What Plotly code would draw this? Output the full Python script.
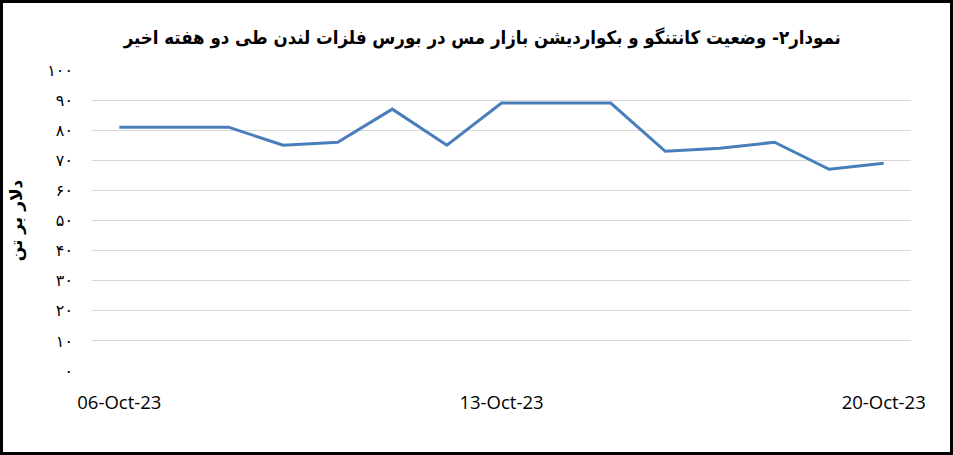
import pandas as pd
import plotly.graph_objects as go

# Daily copper spread readings, London Metal Exchange (two weeks)
dates = pd.date_range("2023-10-06", "2023-10-20", freq="D")
spread = [81, 81, 81, 75, 76, 87, 75, 89, 89, 89, 73, 74, 76, 67, 69]

y_ticks = [0, 10, 20, 30, 40, 50, 60, 70, 80, 90, 100]
y_labels = ["۰", "۱۰", "۲۰", "۳۰", "۴۰", "۵۰", "۶۰", "۷۰", "۸۰", "۹۰", "۱۰۰"]
x_ticks = ["2023-10-06", "2023-10-13", "2023-10-20"]

title_text = "نمودار۲- وضعیت کانتنگو و بکواردیشن بازار مس در بورس فلزات لندن طی دو هفته اخیر"
y_title = "دلار بر تن"

W, H = 953, 455
ml, mr, mt, mb = 92, 42, 70, 84

fig = go.Figure()
fig.add_trace(go.Scatter(
    x=dates, y=spread, mode="lines",
    line=dict(color="#4A7EBB", width=3),
    hoverinfo="x+y",
))

fig.update_layout(
    width=W, height=H,
    margin=dict(l=ml, r=mr, t=mt, b=mb),
    paper_bgcolor="white", plot_bgcolor="white",
    showlegend=False,
    title=dict(
        text="<b>" + title_text + "</b>",
        x=0.506, xanchor="center", y=0.918, yanchor="middle",
        font=dict(family="DejaVu Sans Condensed", size=18.5, color="black"),
    ),
    font=dict(family="Open Sans", color="black"),
)

fig.update_xaxes(
    type="date",
    range=["2023-10-05 12:00", "2023-10-20 12:00"],
    tickvals=x_ticks, tickformat="%d-%b-%y",
    tickfont=dict(family="Open Sans", size=18.5, color="black"),
    showgrid=False, zeroline=False, showline=False,
    ticks="", ticklabelstandoff=18,
)

fig.update_yaxes(
    range=[0, 100],
    tickvals=y_ticks, ticktext=y_labels,
    tickfont=dict(family="DejaVu Sans", size=16, color="black"),
    showgrid=True, gridcolor="#D9D9D9", gridwidth=1,
    zeroline=False, showline=False, ticks="",
    ticklabelstandoff=18,
    title=dict(text="<b>" + y_title + "</b>", standoff=20,
               font=dict(family="DejaVu Sans", size=17, color="black")),
)

# black frame around the whole picture
pw = W - ml - mr
ph = H - mt - mb
fig.add_shape(
    type="rect", xref="paper", yref="paper",
    x0=-ml / pw + 1.5 / pw, x1=1 + mr / pw - 1.5 / pw,
    y0=-mb / ph + 1.5 / ph, y1=1 + mt / ph - 1.5 / ph,
    line=dict(color="black", width=3), fillcolor="rgba(0,0,0,0)",
)

fig.write_html("out.html", config={"displayModeBar": False},
               post_script="document.body.style.margin='0';")
